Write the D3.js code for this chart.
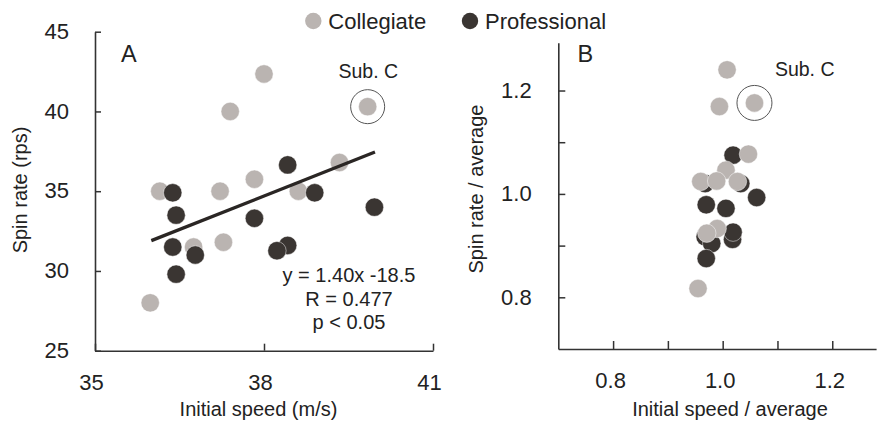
<!DOCTYPE html>
<html>
<head>
<meta charset="utf-8">
<script src="https://cdn.jsdelivr.net/npm/d3@7"></script>
<style>
  html, body { margin: 0; padding: 0; background: #fff; }
  svg { display: block; font-family: "Liberation Sans", Arial, Helvetica, sans-serif; }
</style>
</head>
<body>
<svg id="chart" width="878" height="421"></svg>
<script>
// ---------- DATA ----------
// Panel A: absolute values
const collegeSpeed = [36.15, 35.98, 36.75, 37.22, 37.28, 37.40, 37.83, 38.00, 38.61, 39.34, 39.84];
const collegeSpin  = [35.0, 28.0, 31.5, 35.0, 31.8, 40.0, 35.75, 42.35, 35.0, 36.8, 40.3];
const proSpeed     = [36.38, 36.44, 36.38, 36.44, 36.78, 37.83, 38.42, 38.42, 38.23, 38.90, 39.96];
const proSpin      = [34.9, 33.5, 31.5, 29.8, 31.0, 33.3, 36.65, 31.6, 31.27, 34.9, 34.0];
// Panel B: ratios to average
const collegeSpeedRatio = [1.008, 0.994, 1.058, 1.047, 1.006, 0.960, 0.989, 1.027, 0.990, 0.971, 0.955];
const collegeSpinRatio  = [1.240, 1.169, 1.176, 1.077, 1.046, 1.024, 1.025, 1.024, 0.933, 0.924, 0.817];
const proSpeedRatio     = [1.019, 1.033, 1.062, 0.970, 1.006, 0.968, 1.018, 1.019, 0.968, 0.980, 0.970];
const proSpinRatio      = [1.075, 1.020, 0.993, 0.979, 0.972, 1.020, 0.912, 0.926, 0.917, 0.904, 0.875];
// Highlighted subject (index into collegiate arrays)
const subCIndexA = 10;
const subCIndexB = 2;
// Regression (panel A)
const regSlope = 1.40;
const regIntercept = -18.5;
const regRange = [36.0, 39.97];
const regText = ["y = 1.40x -18.5", "R = 0.477", "p < 0.05"];
// Ticks
const xTicksA = [35, 38, 41];
const yTicksA = [25, 30, 35, 40, 45];
const xTicksB = [0.8, 0.9, 1.0, 1.1, 1.2];
const yTicksB = [0.8, 0.9, 1.0, 1.1, 1.2];
const labeledTicksB = [0.8, 1.0, 1.2];
const legendLabels = ["Collegiate", "Professional"];

// ---------- STYLE ----------
const GRAY = "#bab4b1";
const DARK = "#3a3532";
const AXIS = "#333";
const TEXT = "#222";
const R = 9.2;

const svg = d3.select("#chart");

// ---------- SCALES ----------
const xA = d3.scaleLinear().domain([35, 41]).range([95, 433]);
const yA = d3.scaleLinear().domain([25, 45]).range([350.7, 31.7]);
const xB = d3.scaleLinear().domain([0.7, 1.28]).range([558.3, 876.1]);
const yB = d3.scaleLinear().domain([0.7, 1.2925]).range([349, 42.7]);

function styleAxis(g) {
  g.select(".domain").attr("stroke", AXIS).attr("stroke-width", 1.6);
  g.selectAll(".tick line").attr("stroke", AXIS).attr("stroke-width", 1.5);
  g.selectAll(".tick text").attr("fill", TEXT).style("font-size", "22px")
    .style("font-family", '"Liberation Sans", Arial, sans-serif');
}

// ---------- PANEL A AXES ----------
svg.append("g").attr("transform", `translate(0,${yA(25)})`)
  .call(d3.axisBottom(xA).tickValues(xTicksA).tickFormat(d3.format("d")).tickSizeInner(-7).tickSizeOuter(0).tickPadding(24))
  .call(styleAxis)
  .call(g => g.selectAll(".tick text").attr("dx", "-4"));
svg.append("g").attr("transform", `translate(${xA(35)},0)`)
  .call(d3.axisLeft(yA).tickValues(yTicksA).tickFormat(d3.format("d")).tickSizeInner(-6).tickSizeOuter(0).tickPadding(26))
  .call(styleAxis)
  .call(g => g.selectAll(".tick text").attr("dy", "0.30em"));

// ---------- PANEL B AXES ----------
const fmtB = d => labeledTicksB.some(v => Math.abs(v - d) < 1e-9) ? d3.format(".1f")(d) : "";
svg.append("g").attr("transform", `translate(0,${yB(0.7)})`)
  .call(d3.axisBottom(xB).tickValues(xTicksB).tickFormat(fmtB).tickSizeInner(-8).tickSizeOuter(0).tickPadding(23))
  .call(styleAxis)
  .call(g => g.selectAll(".tick text").attr("dx", "-3"));
svg.append("g").attr("transform", `translate(${xB(0.7)},0)`)
  .call(d3.axisLeft(yB).tickValues(yTicksB).tickFormat(fmtB).tickSizeInner(-7).tickSizeOuter(0).tickPadding(26.6))
  .call(styleAxis)
  .call(g => g.selectAll(".tick text").attr("dy", "0.32em"));

// ---------- AXIS LABELS ----------
function label(x, y, txt, size, anchor, rotate) {
  const t = svg.append("text")
    .attr("fill", TEXT).style("font-size", size + "px")
    .attr("text-anchor", anchor || "middle").text(txt);
  if (rotate) t.attr("transform", `translate(${x},${y}) rotate(-90)`);
  else t.attr("x", x).attr("y", y);
  return t;
}
label(258.5, 416, "Initial speed (m/s)", 20);
label(26.5, 190, "Spin rate (rps)", 20, "middle", true);
label(730, 416, "Initial speed / average", 20);
label(483, 189, "Spin rate / average", 20, "middle", true);

// Panel letters
label(121, 61.5, "A", 23.5, "start");
label(577.5, 61.5, "B", 23.5, "start");

// ---------- POINTS ----------
function drawPoints(xs, ys, sx, sy, color) {
  svg.append("g").selectAll("circle")
    .data(d3.range(xs.length))
    .join("circle")
    .attr("cx", i => sx(xs[i]))
    .attr("cy", i => sy(ys[i]))
    .attr("r", R)
    .attr("fill", color)
    .attr("stroke", "#fff").attr("stroke-width", 0.6).attr("stroke-opacity", 0.8);
}
drawPoints(collegeSpeed, collegeSpin, xA, yA, GRAY);
drawPoints(proSpeed, proSpin, xA, yA, DARK);
drawPoints(proSpeedRatio, proSpinRatio, xB, yB, DARK);
drawPoints(collegeSpeedRatio, collegeSpinRatio, xB, yB, GRAY);

// ---------- REGRESSION LINE (over markers) ----------
svg.append("line")
  .attr("x1", xA(regRange[0])).attr("y1", yA(regSlope * regRange[0] + regIntercept))
  .attr("x2", xA(regRange[1])).attr("y2", yA(regSlope * regRange[1] + regIntercept))
  .attr("stroke", "#2a2624").attr("stroke-width", 3.3);

// ---------- SUB. C ----------
svg.append("circle")
  .attr("cx", xA(collegeSpeed[subCIndexA])).attr("cy", yA(collegeSpin[subCIndexA]))
  .attr("r", 17).attr("fill", "none").attr("stroke", "#555").attr("stroke-width", 1);
label(368.3, 78.3, "Sub. C", 19.5);
svg.append("circle")
  .attr("cx", xB(collegeSpeedRatio[subCIndexB])).attr("cy", yB(collegeSpinRatio[subCIndexB]))
  .attr("r", 17.5).attr("fill", "none").attr("stroke", "#555").attr("stroke-width", 1);
label(804.7, 76, "Sub. C", 19.5);

// ---------- REGRESSION TEXT ----------
regText.forEach((t, i) => label(349, 281.7 + i * 23.8, t, 20));

// ---------- LEGEND ----------
const legColors = [GRAY, DARK];
const legX = [313.3, 470];
legendLabels.forEach((t, i) => {
  svg.append("circle").attr("cx", legX[i]).attr("cy", 21).attr("r", 8.2).attr("fill", legColors[i]);
  label(legX[i] + 15, 29.3, t, 22, "start");
});
</script>
</body>
</html>
